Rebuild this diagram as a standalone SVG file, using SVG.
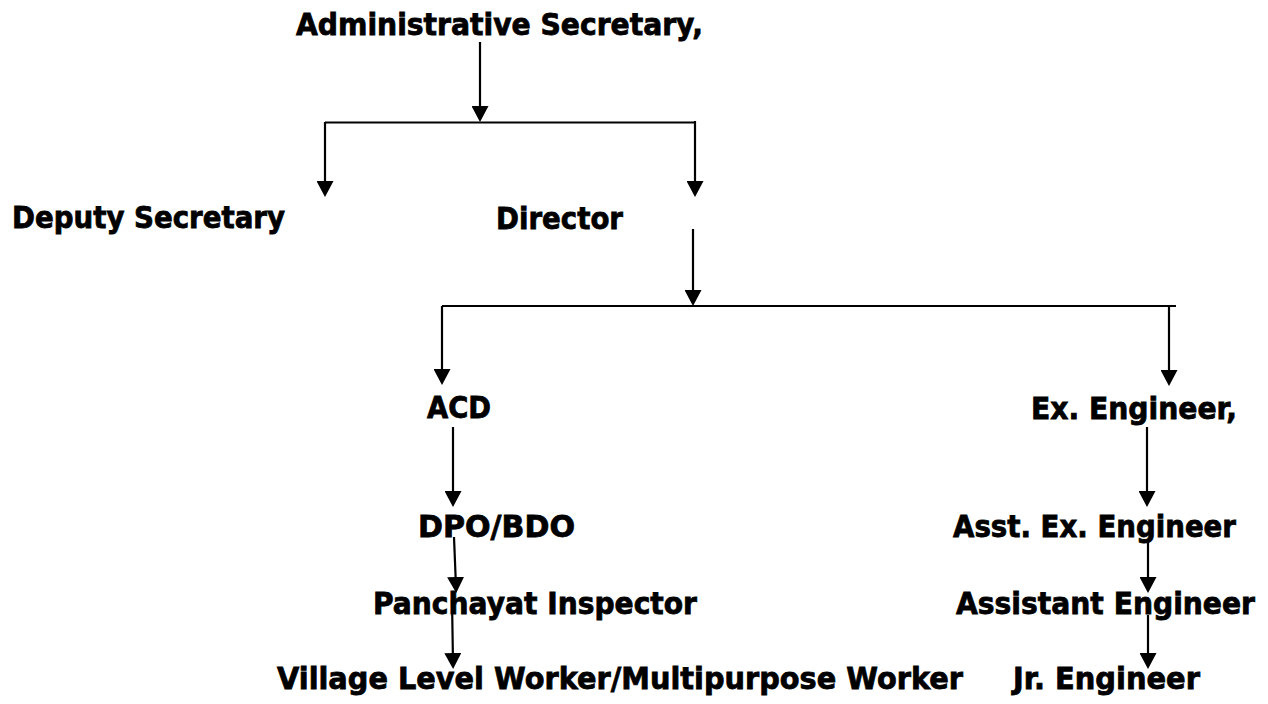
<svg xmlns="http://www.w3.org/2000/svg" width="1268" height="704" viewBox="0 0 1268 704">
<style>
text{font-family:"DejaVu Sans","Verdana",sans-serif;font-weight:bold;font-size:30px;fill:#000;stroke:#000;stroke-width:0.8px}
.c line{stroke:#000;stroke-width:2.2;fill:none}
.c line.a{marker-end:url(#ah)}
</style>
<defs>
<marker id="ah" viewBox="0 0 16 17" refX="10" refY="8.5" markerWidth="16" markerHeight="17" markerUnits="userSpaceOnUse" orient="auto">
<path d="M0,0 L16,8.5 L0,17 Z" fill="#000"/>
</marker>
</defs>
<rect width="1268" height="704" fill="#fff"/>
<g class="c" id="connectors">
<line class="a" x1="480" y1="42" x2="480" y2="116"/>
<line x1="325" y1="122.5" x2="695" y2="122.5"/>
<line class="a" x1="325" y1="122" x2="325" y2="191"/>
<line class="a" x1="695" y1="121" x2="695" y2="191"/>
<line class="a" x1="693" y1="229" x2="693" y2="300"/>
<line x1="442" y1="306" x2="1176" y2="306"/>
<line class="a" x1="442" y1="306" x2="442" y2="379"/>
<line class="a" x1="1169" y1="305" x2="1169" y2="380"/>
<line class="a" x1="453" y1="427" x2="453" y2="501"/>
<line class="a" x1="454" y1="537" x2="456" y2="587"/>
<line class="a" x1="452" y1="600" x2="453" y2="663"/>
<line class="a" x1="1147" y1="427" x2="1147" y2="501"/>
<line class="a" x1="1148" y1="540" x2="1148" y2="587"/>
<line class="a" x1="1148" y1="615" x2="1148" y2="663"/>
</g>
<g id="n-admin"><text x="296" y="35" textLength="407" lengthAdjust="spacingAndGlyphs">Administrative Secretary,</text></g>
<g id="n-deputy"><text x="12" y="228" textLength="273" lengthAdjust="spacingAndGlyphs">Deputy Secretary</text></g>
<g id="n-director"><text x="496" y="229" textLength="127" lengthAdjust="spacingAndGlyphs">Director</text></g>
<g id="n-acd"><text x="427" y="418" textLength="64" lengthAdjust="spacingAndGlyphs">ACD</text></g>
<g id="n-exeng"><text x="1031" y="419" textLength="206" lengthAdjust="spacingAndGlyphs">Ex. Engineer,</text></g>
<g id="n-dpo"><text x="418" y="537" textLength="157" lengthAdjust="spacingAndGlyphs">DPO/BDO</text></g>
<g id="n-asstex"><text x="953" y="537" textLength="283" lengthAdjust="spacingAndGlyphs">Asst. Ex. Engineer</text></g>
<g id="n-panchayat"><text x="373" y="614" textLength="324" lengthAdjust="spacingAndGlyphs">Panchayat Inspector</text></g>
<g id="n-assistant"><text x="956" y="614" textLength="299" lengthAdjust="spacingAndGlyphs">Assistant Engineer</text></g>
<g id="n-village"><text x="277" y="689" textLength="686" lengthAdjust="spacingAndGlyphs">Village Level Worker/Multipurpose Worker</text></g>
<g id="n-jr"><text x="1013" y="689" textLength="187" lengthAdjust="spacingAndGlyphs">Jr. Engineer</text></g>
</svg>
